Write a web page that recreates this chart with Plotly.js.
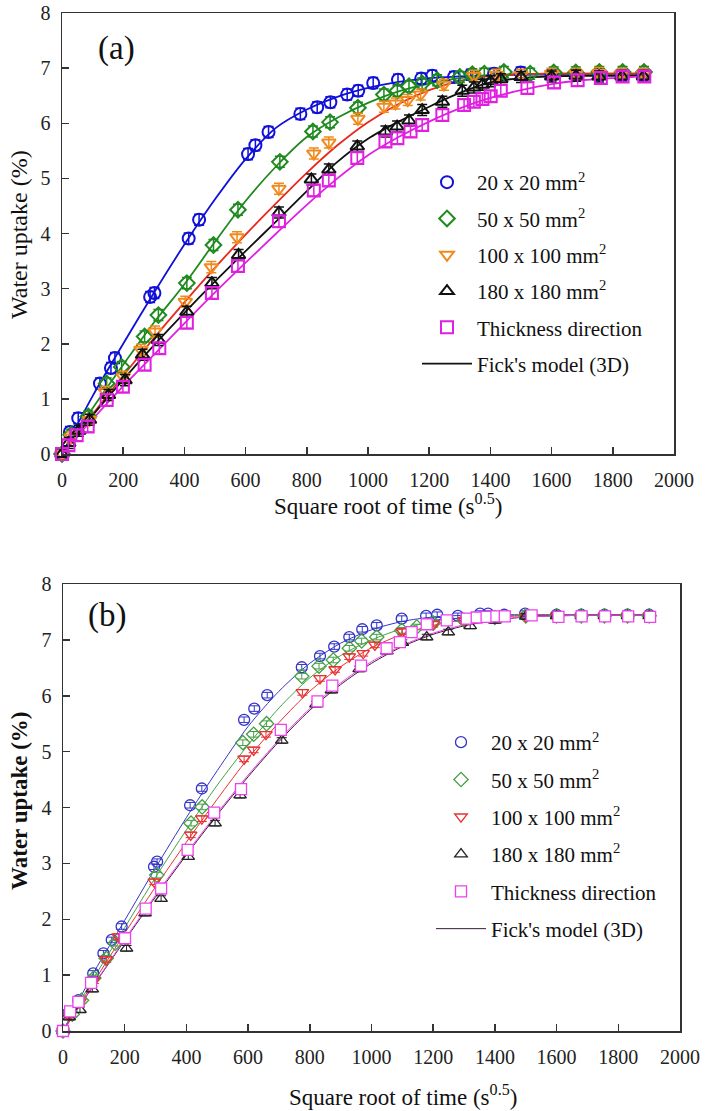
<!DOCTYPE html>
<html>
<head>
<meta charset="utf-8">
<script src="https://cdn.plot.ly/plotly-3.0.1.min.js"></script>
<style>
  body { margin: 0; background: #fff; }
  #chart { width: 707px; height: 1111px; }
</style>
</head>
<body>
<div id="chart"></div>
<script>
// series names (legend)
const seriesNames = ["20 x 20 mm<sup>2</sup>", "50 x 50 mm<sup>2</sup>", "100 x 100 mm<sup>2</sup>",
                     "180 x 180 mm<sup>2</sup>", "Thickness direction"];
const modelName = "Fick's model (3D)";

// ---- panel (a) measured points ----
const aBlueX = [0, 26, 53, 124, 160, 173, 288, 302, 414, 448, 608, 632, 675, 779, 834, 877, 932, 968, 1017, 1098, 1174, 1210, 1281, 1336, 1412, 1499, 1600, 1680, 1755, 1830, 1900];
const aBlueY = [0, 0.40, 0.65, 1.28, 1.56, 1.74, 2.85, 2.92, 3.91, 4.25, 5.44, 5.60, 5.84, 6.17, 6.29, 6.38, 6.52, 6.59, 6.73, 6.79, 6.81, 6.86, 6.84, 6.88, 6.90, 6.92, 6.88, 6.89, 6.88, 6.88, 6.88];
const aGreenX = [0, 30, 86, 146, 195, 270, 315, 408, 495, 575, 712, 820, 876, 967, 1052, 1096, 1134, 1177, 1226, 1300, 1341, 1380, 1444, 1530, 1607, 1679, 1756, 1832, 1902];
const aGreenY = [0, 0.35, 0.68, 1.28, 1.58, 2.13, 2.52, 3.10, 3.79, 4.43, 5.30, 5.85, 6.02, 6.28, 6.52, 6.59, 6.67, 6.72, 6.78, 6.84, 6.89, 6.90, 6.93, 6.90, 6.92, 6.92, 6.93, 6.93, 6.93];
const aOrangeX = [0, 30, 90, 141, 200, 258, 304, 403, 488, 572, 709, 823, 872, 967, 1052, 1090, 1130, 1172, 1248, 1346, 1420, 1500, 1600, 1680, 1755, 1830, 1900];
const aOrangeY = [0, 0.30, 0.62, 1.13, 1.40, 1.89, 2.22, 2.76, 3.39, 3.93, 4.81, 5.45, 5.65, 6.08, 6.30, 6.36, 6.42, 6.52, 6.70, 6.86, 6.88, 6.88, 6.90, 6.90, 6.91, 6.90, 6.90];
const aBlackX = [0, 22, 55, 90, 152, 206, 263, 315, 408, 490, 577, 709, 815, 872, 965, 1057, 1095, 1134, 1177, 1243, 1308, 1346, 1374, 1401, 1434, 1500, 1600, 1680, 1755, 1830, 1900];
const aBlackY = [0, 0.20, 0.42, 0.62, 1.07, 1.34, 1.80, 2.07, 2.58, 3.10, 3.61, 4.38, 4.98, 5.16, 5.58, 5.85, 5.94, 6.05, 6.24, 6.39, 6.59, 6.65, 6.70, 6.76, 6.80, 6.84, 6.85, 6.86, 6.85, 6.85, 6.85];
const aMagX = [0, 21, 48, 84, 146, 199, 270, 318, 408, 490, 575, 709, 823, 872, 965, 1057, 1096, 1139, 1177, 1243, 1314, 1346, 1374, 1401, 1434, 1521, 1608, 1685, 1761, 1832, 1903];
const aMagY = [0, 0.16, 0.34, 0.50, 0.98, 1.22, 1.62, 1.92, 2.38, 2.92, 3.41, 4.22, 4.78, 4.96, 5.37, 5.67, 5.73, 5.85, 5.97, 6.15, 6.33, 6.39, 6.44, 6.49, 6.59, 6.64, 6.74, 6.78, 6.82, 6.85, 6.85];
const aErr = 0.1;

// ---- panel (b) measured points ----
const bBlueX = [0, 17, 50, 98, 131, 158, 190, 295, 305, 412, 450, 587, 620, 662, 774, 833, 879, 928, 970, 1017, 1098, 1177, 1213, 1280, 1352, 1378, 1430, 1498, 1600, 1680, 1755, 1830, 1900];
const bBlueY = [0, 0.32, 0.55, 1.03, 1.39, 1.63, 1.87, 2.94, 3.03, 4.04, 4.34, 5.57, 5.77, 6.01, 6.51, 6.71, 6.88, 7.05, 7.19, 7.26, 7.38, 7.43, 7.45, 7.43, 7.47, 7.47, 7.45, 7.47, 7.45, 7.45, 7.45, 7.45, 7.45];
const bGreenX = [0, 30, 60, 100, 140, 169, 304, 415, 451, 583, 618, 660, 774, 830, 876, 928, 968, 1017, 1098, 1147, 1200, 1300, 1400, 1500, 1600, 1680, 1755, 1830, 1900];
const bGreenY = [0, 0.30, 0.55, 0.95, 1.30, 1.57, 2.79, 3.72, 4.01, 5.16, 5.31, 5.50, 6.35, 6.53, 6.64, 6.85, 6.98, 7.05, 7.17, 7.23, 7.30, 7.35, 7.40, 7.43, 7.43, 7.43, 7.43, 7.43, 7.43];
const bRedX = [0, 20, 55, 100, 140, 179, 296, 414, 450, 587, 618, 658, 776, 833, 882, 928, 973, 1011, 1100, 1200, 1300, 1400, 1500, 1600, 1680, 1755, 1830, 1900];
const bRedY = [0, 0.28, 0.52, 0.90, 1.28, 1.69, 2.67, 3.51, 3.80, 4.87, 5.03, 5.31, 6.06, 6.31, 6.47, 6.70, 6.76, 6.91, 7.15, 7.28, 7.35, 7.40, 7.42, 7.43, 7.43, 7.43, 7.43, 7.43];
const bBlackX = [0, 20, 55, 95, 206, 266, 318, 406, 493, 574, 709, 820, 870, 960, 1050, 1100, 1179, 1249, 1320, 1400, 1500, 1600, 1680, 1755, 1830, 1900];
const bBlackY = [0, 0.25, 0.38, 0.75, 1.48, 2.11, 2.37, 3.12, 3.72, 4.22, 5.20, 5.85, 6.10, 6.48, 6.80, 6.95, 7.05, 7.14, 7.25, 7.35, 7.42, 7.43, 7.43, 7.43, 7.43, 7.43];
const bMagX = [0, 23, 50, 91, 201, 268, 318, 404, 490, 577, 706, 825, 873, 966, 1049, 1092, 1130, 1179, 1244, 1309, 1341, 1373, 1405, 1432, 1519, 1606, 1681, 1757, 1832, 1903];
const bMagY = [0, 0.35, 0.52, 0.86, 1.66, 2.19, 2.55, 3.24, 3.91, 4.33, 5.39, 5.90, 6.18, 6.54, 6.85, 6.96, 7.14, 7.28, 7.35, 7.38, 7.40, 7.41, 7.42, 7.42, 7.44, 7.41, 7.42, 7.42, 7.42, 7.41];
const bErr = 0.05;

// ---- Fick's model curves, read at every 100 s^0.5 ----
const modelX = [0, 100, 200, 300, 400, 500, 600, 700, 800, 900, 1000, 1100, 1200, 1300, 1400, 1500, 1600, 1700, 1800, 1900];
const aModelBlue = [0, 1.05, 2.0, 2.92, 3.8, 4.62, 5.35, 5.92, 6.25, 6.48, 6.64, 6.75, 6.82, 6.85, 6.87, 6.88, 6.88, 6.88, 6.88, 6.88];
const aModelGreen = [0, 0.83, 1.62, 2.38, 3.08, 3.85, 4.59, 5.22, 5.75, 6.1, 6.37, 6.58, 6.72, 6.82, 6.87, 6.89, 6.9, 6.9, 6.9, 6.9];
const aModelRed = [0, 0.72, 1.42, 2.1, 2.75, 3.38, 3.98, 4.55, 5.1, 5.6, 6.02, 6.35, 6.6, 6.77, 6.86, 6.89, 6.9, 6.9, 6.9, 6.9];
const aModelBlack = [0, 0.7, 1.35, 1.97, 2.56, 3.13, 3.68, 4.22, 4.77, 5.3, 5.72, 6.03, 6.3, 6.55, 6.74, 6.82, 6.85, 6.86, 6.86, 6.86];
const aModelMag = [0, 0.63, 1.23, 1.8, 2.37, 2.93, 3.47, 4.0, 4.52, 5.0, 5.42, 5.75, 6.03, 6.27, 6.46, 6.6, 6.71, 6.78, 6.82, 6.85];
const bModelBlue = [0, 1.05, 1.98, 2.92, 3.82, 4.66, 5.45, 6.08, 6.58, 6.94, 7.18, 7.33, 7.41, 7.44, 7.45, 7.45, 7.45, 7.45, 7.45, 7.45];
const bModelGreen = [0, 0.95, 1.85, 2.75, 3.6, 4.4, 5.12, 5.78, 6.32, 6.72, 7.0, 7.2, 7.33, 7.4, 7.43, 7.44, 7.44, 7.44, 7.44, 7.44];
const bModelRed = [0, 0.88, 1.75, 2.58, 3.38, 4.15, 4.88, 5.52, 6.08, 6.52, 6.86, 7.1, 7.26, 7.36, 7.41, 7.43, 7.44, 7.44, 7.44, 7.44];
const bModelBlack = [0, 0.82, 1.62, 2.4, 3.15, 3.87, 4.55, 5.18, 5.74, 6.2, 6.58, 6.88, 7.1, 7.25, 7.35, 7.41, 7.43, 7.44, 7.44, 7.44];
const bModelMag = [0, 0.83, 1.64, 2.43, 3.18, 3.9, 4.58, 5.21, 5.77, 6.23, 6.61, 6.9, 7.12, 7.27, 7.36, 7.41, 7.43, 7.44, 7.44, 7.44];

const FONT = "Liberation Serif, serif";

// colours per panel: marker, line
const aMarkCol = ["#1010d8", "#1e8a1e", "#f08a1c", "#111111", "#e020e0"];
const aLineCol = ["#1010d8", "#1e8a1e", "#e8281c", "#111111", "#e020e0"];
const bMarkCol = ["#3434c8", "#45a045", "#e83030", "#222222", "#ee40ee"];
const bLineCol = ["#3434c8", "#45a045", "#e83030", "#3a1a3a", "#ee40ee"];
const symbols = ["circle-open", "diamond-open", "triangle-down-open", "triangle-up-open", "square-open"];

function pointsTrace(x, y, i, err, panel) {
    const isA = panel === "a";
    const col = isA ? aMarkCol[i] : bMarkCol[i];
    let sym = symbols[i];
    // squares in (b) are filled white
    let fill = col;
    if (!isA && i === 4) { sym = "square"; fill = "#ffffff"; }
    return {
        x: x, y: y, type: "scatter", mode: "markers",
        name: seriesNames[i],
        xaxis: isA ? "x" : "x2", yaxis: isA ? "y" : "y2",
        legend: isA ? "legend" : "legend2",
        legendgroup: panel + i, legendrank: i + 1,
        cliponaxis: false,
        marker: {symbol: sym, size: isA ? 12 : 11, color: fill,
                 line: {color: col, width: isA ? 2 : 1.3}},
        error_y: {type: "constant", value: err, color: col, thickness: isA ? 1.5 : 1, width: 5}
    };
}

function modelTrace(y, i, panel) {
    const isA = panel === "a";
    const isLegend = i === 3;
    return {
        x: modelX, y: y, type: "scatter", mode: "lines",
        name: isLegend ? modelName : "",
        showlegend: isLegend,
        legend: isA ? "legend" : "legend2",
        legendgroup: panel + "m" + i, legendrank: 10,
        xaxis: isA ? "x" : "x2", yaxis: isA ? "y" : "y2",
        line: {color: isA ? aLineCol[i] : bLineCol[i], width: isA ? 1.8 : 1, shape: "spline", smoothing: 0.8}
    };
}

const aPts = [[aBlueX, aBlueY], [aGreenX, aGreenY], [aOrangeX, aOrangeY], [aBlackX, aBlackY], [aMagX, aMagY]];
const bPts = [[bBlueX, bBlueY], [bGreenX, bGreenY], [bRedX, bRedY], [bBlackX, bBlackY], [bMagX, bMagY]];
const aModels = [aModelBlue, aModelGreen, aModelRed, aModelBlack, aModelMag];
const bModels = [bModelBlue, bModelGreen, bModelRed, bModelBlack, bModelMag];

let traces = [];
for (let i = 0; i < 5; i++) traces.push(modelTrace(aModels[i], i, "a"));
for (let i = 0; i < 5; i++) traces.push(pointsTrace(aPts[i][0], aPts[i][1], i, aErr, "a"));
for (let i = 0; i < 5; i++) traces.push(modelTrace(bModels[i], i, "b"));
for (let i = 0; i < 5; i++) traces.push(pointsTrace(bPts[i][0], bPts[i][1], i, bErr, "b"));

function xAxis(domain, anchor) {
    return {
        domain: domain, anchor: anchor, range: [0, 2000], dtick: 200, tick0: 0,
        showgrid: false, zeroline: false, showline: true, mirror: true,
        linecolor: "#333", linewidth: 1.5, ticks: "inside", ticklen: 7, tickwidth: 1.5, tickcolor: "#333",
        ticklabelstandoff: 7, tickfont: {family: FONT, size: 20, color: "#222"}
    };
}
function yAxis(domain, anchor) {
    return {
        domain: domain, anchor: anchor, range: [0, 8], dtick: 1, tick0: 0,
        showgrid: false, zeroline: false, showline: true, mirror: true,
        linecolor: "#333", linewidth: 1.5, ticks: "inside", ticklen: 7, tickwidth: 1.5, tickcolor: "#333",
        ticklabelstandoff: 6, tickfont: {family: FONT, size: 20, color: "#222"}
    };
}

function legendStyle(gap) {
    return {
        font: {family: FONT, size: 21, color: "#111"},
        bgcolor: "rgba(0,0,0,0)", itemwidth: 50, tracegroupgap: gap,
        xanchor: "left", yanchor: "top", traceorder: "grouped"
    };
}

// text helper: paper position given in pixels
function note(text, px, py, size, angle) {
    return {text: text, x: px / 707, y: 1 - py / 1111, xref: "paper", yref: "paper",
            xanchor: "center", yanchor: "middle", showarrow: false, textangle: angle || 0,
            font: {family: FONT, size: size, color: "#111"}};
}

const layout = {
    width: 707, height: 1111,
    margin: {l: 0, r: 0, t: 0, b: 0},
    paper_bgcolor: "#fff", plot_bgcolor: "#fff",
    font: {family: FONT, color: "#111"},
    xaxis: xAxis([62 / 707, 674 / 707], "y"),
    yaxis: yAxis([1 - 454 / 1111, 1 - 13 / 1111], "x"),
    xaxis2: xAxis([63 / 707, 680 / 707], "y2"),
    yaxis2: yAxis([1 - 1031 / 1111, 1 - 584 / 1111], "x2"),
    legend: Object.assign({x: 417 / 707, y: 1 - 162 / 1111}, legendStyle(6)),
    legend2: Object.assign({x: 431 / 707, y: 1 - 722 / 1111}, legendStyle(7)),
    annotations: [
        note("(a)", 116, 48, 33),
        note("(b)", 107, 615, 33),
        note("Square root of time (s<sup>0.5</sup>)", 388, 504, 23),
        note("Square root of time (s<sup>0.5</sup>)", 403, 1095, 23),
        note("Water uptake (%)", 19, 235, 24, -90),
        note("<b>Water uptake (%)</b>", 19, 801, 23, -90)
    ]
};

Plotly.newPlot("chart", traces, layout, {staticPlot: true, displayModeBar: false});
</script>
</body>
</html>
